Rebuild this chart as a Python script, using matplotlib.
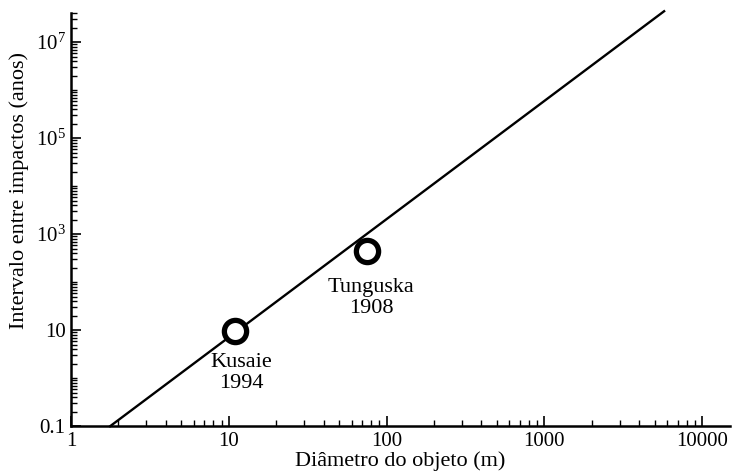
import matplotlib
matplotlib.use("Agg")
import matplotlib.pyplot as plt
from matplotlib.ticker import FixedLocator, FixedFormatter, NullFormatter, LogLocator

plt.rcParams["font.family"] = ["Liberation Serif", "DejaVu Serif"]
plt.rcParams["mathtext.fontset"] = "custom"
plt.rcParams["mathtext.rm"] = "Liberation Serif"
plt.rcParams["mathtext.it"] = "Liberation Serif:italic"

# power-law fit: impact interval vs object diameter
line_diam = [1.77, 5750]
line_interval = [0.1, 4.4e7]

# known events
event_names = ["Kusaie\n1994", "Tunguska\n1908"]
event_diam = [10.9, 75]
event_interval = [9.5, 450]
event_offsets = [(5, -30), (3, -34)]

x_ticks = [1, 10, 100, 1000, 10000]
x_labels = ["1", "10", "100", "1000", "10000"]
y_ticks = [0.1, 10, 1e3, 1e5, 1e7]
y_labels = ["0.1", "10", r"$\mathregular{10^3}$", r"$\mathregular{10^5}$", r"$\mathregular{10^7}$"]

fig = plt.figure(figsize=(7.32, 4.72), dpi=100)
ax = fig.add_axes([0.097, 0.097, 0.9, 0.875])

ax.plot(line_diam, line_interval, color="black", lw=1.7, clip_on=False)
ax.plot(event_diam, event_interval, "o", ms=16, mfc="white", mec="black", mew=3.8, zorder=3)

for name, xd, yd, off in zip(event_names, event_diam, event_interval, event_offsets):
    ax.annotate(name, (xd, yd), xytext=off, textcoords="offset points",
                ha="center", va="center", fontsize=16, linespacing=1.15)

ax.set_xscale("log")
ax.set_yscale("log")
ax.set_xlim(1, 15000)
ax.set_ylim(0.1, 4e7)

ax.spines["top"].set_visible(False)
ax.spines["right"].set_visible(False)
ax.spines["left"].set_linewidth(1.8)
ax.spines["bottom"].set_linewidth(1.8)

ax.xaxis.set_major_locator(FixedLocator(x_ticks))
ax.xaxis.set_major_formatter(FixedFormatter(x_labels))
ax.xaxis.set_minor_locator(LogLocator(base=10, subs=range(2, 10)))
ax.xaxis.set_minor_formatter(NullFormatter())

ax.yaxis.set_major_locator(FixedLocator(y_ticks))
ax.yaxis.set_major_formatter(FixedFormatter(y_labels))
ax.yaxis.set_minor_locator(LogLocator(base=10, subs=range(1, 10), numticks=20))
ax.yaxis.set_minor_formatter(NullFormatter())

ax.tick_params(which="major", direction="in", length=7, width=1.2, labelsize=15, pad=4)
ax.tick_params(which="minor", direction="in", length=4, width=1)

ax.set_xlabel("Diâmetro do objeto (m)", fontsize=16, labelpad=0)
ax.set_ylabel("Intervalo entre impactos (anos)", fontsize=16)
ax.yaxis.set_label_coords(-0.064, 0.57)

fig.savefig("out.png", dpi=100)
